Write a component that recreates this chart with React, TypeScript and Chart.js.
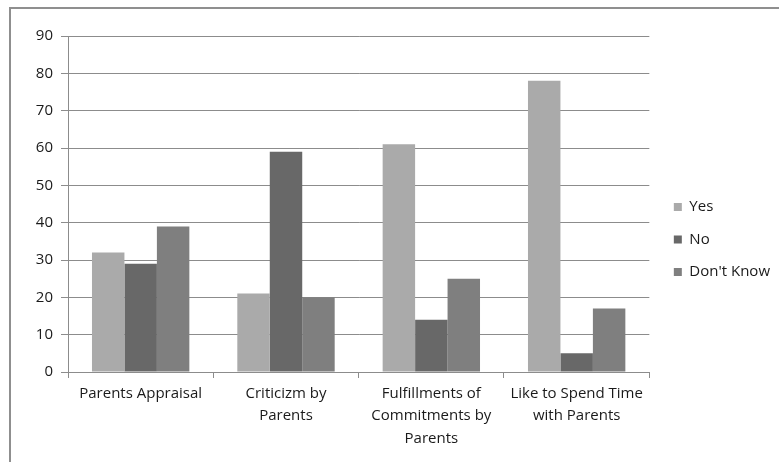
import React, { useEffect, useRef } from "react";
import { Chart, registerables } from "chart.js";

Chart.register(...registerables);

// Survey responses (%) per statement
const categories: (string | string[])[] = [
  "Parents Appraisal",
  ["Criticizm by", "Parents"],
  ["Fulfillments of", "Commitments by", "Parents"],
  ["Like to Spend Time", "with Parents"],
];
const yesValues = [32, 21, 61, 78];
const noValues = [29, 59, 14, 5];
const dontKnowValues = [39, 20, 25, 17];
const seriesNames = ["Yes", "No", "Don't Know"];
const seriesColors = ["#aaaaaa", "#686868", "#7f7f7f"];

const FONT = "'Open Sans', sans-serif";
const TEXT = "#1a1a1a";
const GRID = "#8c8c8c";

// Moves the legend block next to the plot, centred in the frame
const legendPlacement = {
  id: "legendPlacement",
  afterLayout(chart: any) {
    const lg = chart.legend;
    if (!lg) return;
    const dx = 7;
    const dy = -9.5;
    lg.left += dx;
    lg.right += dx;
    lg.top += dy;
    lg.bottom += dy;
  },
};

export default function App() {
  const canvasRef = useRef<HTMLCanvasElement | null>(null);

  useEffect(() => {
    if (!canvasRef.current) return;
    const chart = new Chart(canvasRef.current, {
      type: "bar",
      data: {
        labels: categories as any,
        datasets: [yesValues, noValues, dontKnowValues].map((values, i) => ({
          label: seriesNames[i],
          data: values,
          backgroundColor: seriesColors[i],
          borderWidth: 0,
          categoryPercentage: 0.67,
          barPercentage: 1,
        })),
      },
      options: {
        animation: false,
        responsive: false,
        devicePixelRatio: 1,
        layout: { padding: { left: 0, right: 6, top: 36, bottom: 0 } },
        plugins: {
          tooltip: { enabled: false },
          title: { display: false },
          legend: {
            position: "right",
            labels: {
              boxWidth: 8,
              boxHeight: 8,
              padding: 17.5,
              color: TEXT,
              font: { family: FONT, size: 15 },
            },
          },
        },
        scales: {
          x: {
            grid: {
              offset: true,
              drawOnChartArea: false,
              drawTicks: true,
              tickLength: 6,
              color: GRID,
            },
            border: { color: GRID },
            ticks: {
              color: TEXT,
              font: { family: FONT, size: 15, lineHeight: 1.5 },
              maxRotation: 0,
              autoSkip: false,
              padding: 4,
            },
            afterFit(scale: any) {
              scale.height = 90;
            },
          },
          y: {
            min: 0,
            max: 90,
            grid: { color: GRID, tickLength: 7, drawTicks: true },
            border: { color: GRID },
            ticks: {
              stepSize: 10,
              color: TEXT,
              font: { family: FONT, size: 15 },
              padding: 8,
            },
            afterFit(scale: any) {
              scale.width = 68;
            },
          },
        },
      },
      plugins: [legendPlacement],
    });
    return () => chart.destroy();
  }, []);

  return (
    <div
      style={{
        position: "fixed",
        left: 0,
        top: 0,
        width: 779,
        height: 462,
        overflow: "hidden",
        background: "#ffffff",
      }}
    >
      <div
        style={{
          position: "absolute",
          left: 9,
          top: 7,
          width: 900,
          height: 600,
          border: "2px solid #8f8f8f",
          boxSizing: "border-box",
        }}
      />
      <canvas
        ref={canvasRef}
        width={779}
        height={462}
        style={{ position: "absolute", left: 0, top: 0, display: "block" }}
      />
    </div>
  );
}
